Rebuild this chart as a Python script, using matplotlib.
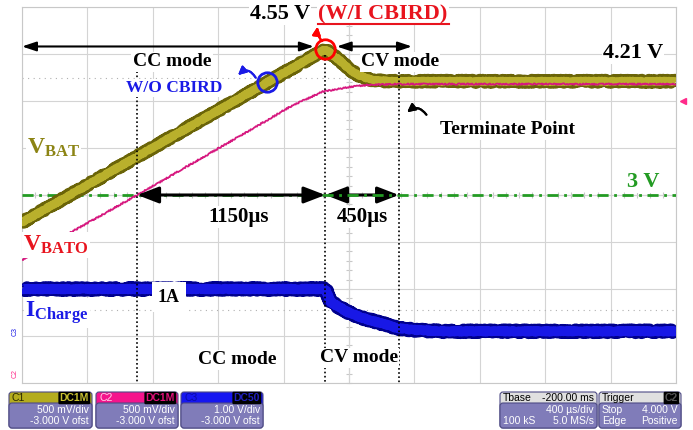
import numpy as np
import matplotlib.pyplot as plt
from matplotlib.patches import FancyBboxPatch
from matplotlib.lines import Line2D
from matplotlib.transforms import ScaledTranslation

plt.rcParams['font.family'] = ['Liberation Serif', 'DejaVu Serif']
plt.rcParams['mathtext.fontset'] = 'custom'
plt.rcParams['mathtext.rm'] = 'Liberation Serif:bold'
plt.rcParams['mathtext.it'] = 'Liberation Serif:bold'
plt.rcParams['mathtext.bf'] = 'Liberation Serif:bold'
plt.rcParams['mathtext.default'] = 'rm'

# time in us (400 us/div), C1/C2 in V (500 mV/div, 3 V at centre), C3 in A (1/div)
t_bat = [0, 1855, 1945, 2005, 2065, 2145, 2250, 4000]
v_bat = [2.71, 4.55, 4.43, 4.33, 4.27, 4.22, 4.21, 4.21]

t_bato = [0, 705, 1415, 1640, 1840, 2005, 2110, 2300, 4000]
v_bato = [2.31, 3.00, 3.71, 3.94, 4.10, 4.15, 4.17, 4.18, 4.18]

t_chg = [0, 1855, 1890, 1990, 2085, 2190, 2295, 2390, 2560, 4000]
i_chg = [1.0, 1.0, 0.72, 0.51, 0.38, 0.28, 0.17, 0.13, 0.10, 0.10]

t_cc = 705      # VBATO reaches 3 V
t_cv = 1855     # CC -> CV
t_end = 2305    # terminate point
v_ref = 3.0
v_peak = 4.55
v_final = 4.21
i_cc = 1.0
t_wo = 1500     # W/O CBIRD point on VBAT
v_trig = 4.0

OLIVE = '#b9b02c'
OLIVE_D = '#6a6408'
MAG = '#d6187f'
BLUE = '#1818e6'
BLUE_D = '#00008c'
GREEN = '#239b23'
RED = '#e8141e'

W, H = 693, 430
fig = plt.figure(figsize=(W / 100, H / 100), dpi=100)


def fx(x):
    return x / W


def fy(y):
    return 1 - y / H


def noisy(lines, scale, length, rand):
    for ln in lines:
        ln.set_sketch_params(scale, length, rand)


L, R, T, B = 22, 676, 7, 383
rect = [fx(L), fy(B), (R - L) / W, (B - T) / H]

# centre cross with small ticks
axc = fig.add_axes(rect)
axc.set_xlim(0, 4000)
axc.set_ylim(1, 5)
axc.patch.set_visible(False)
axc.spines['top'].set_visible(False)
axc.spines['right'].set_visible(False)
axc.spines['left'].set_position(('data', 2000))
axc.spines['bottom'].set_position(('data', 3.0))
for s in ['left', 'bottom']:
    axc.spines[s].set_color('#c8c8c8')
    axc.spines[s].set_linewidth(0.8)
axc.set_xticks(np.arange(0, 4001, 400))
axc.set_xticks(np.arange(0, 4001, 80), minor=True)
axc.set_yticks(np.arange(1, 5.01, 0.5))
axc.set_yticks(np.arange(1, 5.01, 0.1), minor=True)
axc.tick_params(which='both', direction='inout', length=5, width=0.8,
                color='#c8c8c8', labelbottom=False, labelleft=False)

ax = fig.add_axes(rect)
ax.set_xlim(0, 4000)
ax.set_ylim(1, 5)
ax.patch.set_visible(False)
ax.set_xticks(np.arange(0, 4001, 400))
ax.set_yticks(np.arange(1, 5.01, 0.5))
ax.tick_params(length=0, labelbottom=False, labelleft=False)
ax.grid(True, color='#d4d4d4', lw=0.8)
for s in ax.spines.values():
    s.set_color('#c8c8c8')
    s.set_linewidth(0.8)
ax.axhline(4.245, color='#b0b0b0', lw=0.8, ls=(0, (1, 4)))

# 450us arrow sits under the green reference line
ax.annotate('', xy=(t_end, v_ref), xytext=(t_cv, v_ref),
            arrowprops=dict(arrowstyle='<|-|>,head_length=0.65,head_width=0.25',
                            color='k', lw=2.2, mutation_scale=20,
                            shrinkA=0, shrinkB=0), zorder=2)
ax.axhline(v_ref, color=GREEN, lw=2, ls=(0, (4, 2, 1, 2)), zorder=3)

# noisy scope traces: jittered dark edge under a lighter core
noisy(ax.plot(t_bat, v_bat, color=OLIVE_D, lw=8.5, solid_joinstyle='round',
              solid_capstyle='butt', zorder=4), 1.6, 2.5, 3)
noisy(ax.plot(t_bat, v_bat, color=OLIVE, lw=5.5, solid_joinstyle='round',
              solid_capstyle='butt', zorder=4), 0.8, 3, 2)
noisy(ax.plot(t_bato, v_bato, color=MAG, lw=1.3, zorder=5), 0.7, 2, 2)

axI = ax.twinx()
axI.set_ylim(-1, 7)
axI.set_yticks([])
axI.tick_params(right=False, labelright=False)
for s in axI.spines.values():
    s.set_visible(False)
axI.axhline(0.55, color='#b0b0b0', lw=0.8, ls=(0, (1, 4)))
noisy(axI.plot(t_chg, i_chg, color=BLUE_D, lw=9, solid_capstyle='butt',
               solid_joinstyle='round'), 1.6, 2.5, 3)
noisy(axI.plot(t_chg, i_chg, color=BLUE, lw=6.5, solid_capstyle='butt',
               solid_joinstyle='round'), 0.8, 3, 2)

td = ax.transData

# dotted markers
for tt, vtop in [(t_cc, 4.40), (t_cv, 4.49), (t_end, 4.35)]:
    axI.plot([tt, tt], [vtop, 1.0], transform=td, color='k', lw=1.2,
             ls=(0, (1, 1.5)), zorder=6)

# mode arrows
small = dict(arrowstyle='<|-|>,head_length=0.6,head_width=0.2', color='k',
             lw=1.5, mutation_scale=14, shrinkA=0, shrinkB=0)
axI.annotate('', xy=(0, 4.58), xytext=(t_cv - 70, 4.58), xycoords=td,
             textcoords=td, arrowprops=small)
axI.annotate('', xy=(t_cv + 70, 4.58), xytext=(t_end + 80, 4.58),
             xycoords=td, textcoords=td, arrowprops=small)
axI.annotate('', xy=(t_cc, v_ref), xytext=(t_cv, v_ref), xycoords=td,
             textcoords=td,
             arrowprops=dict(arrowstyle='<|-|>,head_length=0.65,head_width=0.25',
                             color='k', lw=2.2, mutation_scale=20,
                             shrinkA=0, shrinkB=0))

# markers on VBAT
axI.plot([t_cv], [v_peak], transform=td, marker='o', ms=14, mfc='none',
         mec='red', mew=2, zorder=7)
v_wo = np.interp(t_wo, t_bat, v_bat)
axI.plot([t_wo], [v_wo], transform=td, marker='o', ms=14, mfc='none',
         mec='#1a1ae6', mew=2, zorder=7)

# trigger level marker on the right edge
axI.plot([4000], [v_trig], transform=td + ScaledTranslation(7 / 100, 0, fig.dpi_scale_trans),
         marker='<', ms=5, color='#ff2a8a', clip_on=False)

# curved pointers
fig.add_artist(plt.annotate('', xy=(fx(318), fy(24)), xytext=(fx(324), fy(43)),
                            xycoords='figure fraction', textcoords='figure fraction',
                            arrowprops=dict(arrowstyle='-|>,head_length=0.4,head_width=0.2',
                                            color='red', lw=1.5, mutation_scale=12,
                                            connectionstyle='arc3,rad=-0.3')))
fig.add_artist(plt.annotate('', xy=(fx(236), fy(77)), xytext=(fx(257), fy(80)),
                            xycoords='figure fraction', textcoords='figure fraction',
                            arrowprops=dict(arrowstyle='-|>,head_length=0.4,head_width=0.2',
                                            color='#1a1ae6', lw=1.5, mutation_scale=12,
                                            connectionstyle='arc3,rad=0.7')))
fig.add_artist(plt.annotate('', xy=(fx(405), fy(114)), xytext=(fx(428), fy(117)),
                            xycoords='figure fraction', textcoords='figure fraction',
                            arrowprops=dict(arrowstyle='-|>,head_length=0.4,head_width=0.2',
                                            color='k', lw=1.5, mutation_scale=12,
                                            connectionstyle='arc3,rad=0.6')))

box = dict(fc='white', ec='none', pad=1)


def label(x, y, s, size=14, color='k', ha='center', **kw):
    fig.text(fx(x), fy(y), s, fontsize=size, color=color, ha=ha, va='center',
             fontweight='bold', bbox=kw.pop('bbox', box), zorder=5, **kw)


label(280, 14, '%.2f V' % v_peak, 16)
label(318, 14, '(W/I CBIRD)', 16, RED, ha='left')
fig.add_artist(Line2D([fx(318), fx(449)], [fy(24), fy(24)], color=RED, lw=1.5,
                      zorder=6))
label(172, 62, 'CC mode')
label(400, 62, 'CV mode')
label(174, 88, 'W/O CBIRD', 12.5, '#1a1ae6')
label(633, 53, '%.2f V' % v_final, 16)
label(27, 148, r'$V_{BAT}$', 17, '#8c8414', ha='left')
label(508, 130, 'Terminate Point')
label(643, 182, '%d V' % v_ref, 16, GREEN)
label(239, 217, '%dµs' % (t_cv - t_cc), 15)
label(362, 217, '%dµs' % (t_end - t_cv), 15)
label(23, 245, r'$V_{BATO}$', 17, RED, ha='left')
label(169, 297, '%dA' % i_cc, 13,
      bbox=dict(fc='white', ec='none', boxstyle='square,pad=0.35'))
label(25, 313, r'$I_{Charge}$', 17, '#1a1ae6', ha='left')
label(237, 360, 'CC mode')
label(359, 358, 'CV mode')

# channel ground markers
fig.text(fx(15), fy(331), 'C3', fontsize=5, color='#1a1ae6', rotation=90,
         ha='center', va='center', family='Liberation Sans')
fig.text(fx(15), fy(374), 'C2', fontsize=5, color='#ff2a8a', rotation=90,
         ha='center', va='center', family='Liberation Sans')

# info bar
BODY = '#807cb9'
EDGE = '#4e4b85'
sans = dict(family=['Liberation Sans', 'DejaVu Sans'], fontsize=7.5)
inch = fig.dpi_scale_trans


def panel(x0, x1, head_col, name, name_col, badge=None, badge_col='k', rows=()):
    y0, yh, y1 = 392, 403, 428
    fig.add_artist(FancyBboxPatch((x0 / 100, (H - y1) / 100), (x1 - x0) / 100,
                                  (y1 - y0) / 100,
                                  boxstyle='round,pad=0,rounding_size=0.03',
                                  fc=head_col, ec=EDGE, lw=0.8, transform=inch))
    fig.add_artist(FancyBboxPatch((x0 / 100, (H - y1) / 100), (x1 - x0) / 100,
                                  (y1 - yh) / 100,
                                  boxstyle='round,pad=0,rounding_size=0.03',
                                  fc=BODY, ec=EDGE, lw=0.8, transform=inch))
    fig.text(fx(x0 + 3), fy(398), name, color=name_col, ha='left', va='center', **sans)
    if badge is not None:
        fig.text(fx(x1 - 3), fy(398), badge, color=badge_col, ha='right', va='center',
                 fontweight='bold',
                 bbox=dict(boxstyle='round,pad=0.12', fc='black', ec='none'), **sans)
    for y, left, right in rows:
        if left:
            fig.text(fx(x0 + 3), fy(y), left, color='white', ha='left', va='center', **sans)
        if right:
            fig.text(fx(x1 - 3), fy(y), right, color='white', ha='right', va='center', **sans)


panel(9, 92, '#b4ac1e', 'C1', '#2a2800', 'DC1M', '#c8c030',
      [(410, '', '500 mV/div'), (421, '', '-3.000 V ofst')])
panel(96, 178, '#f5148c', 'C2', '#ffd0e8', 'DC1M', '#e0107a',
      [(410, '', '500 mV/div'), (421, '', '-3.000 V ofst')])
panel(181, 263, '#1616f0', 'C3', '#0a0aa8', 'DC50', '#2020c0',
      [(410, '', '1.00 V/div'), (421, '', '-3.000 V ofst')])
panel(500, 597, '#e0e0e0', 'Tbase', 'black', None, 'k',
      [(410, '', '400 µs/div'), (421, '100 kS', '5.0 MS/s')])
fig.text(fx(594), fy(398), '-200.00 ms', color='black', ha='right', va='center', **sans)
panel(599, 681, '#e0e0e0', 'Trigger', 'black', 'C2', '#555555',
      [(410, 'Stop', '4.000 V'), (421, 'Edge', 'Positive')])

fig.savefig('out.png', dpi=100, facecolor='white')
